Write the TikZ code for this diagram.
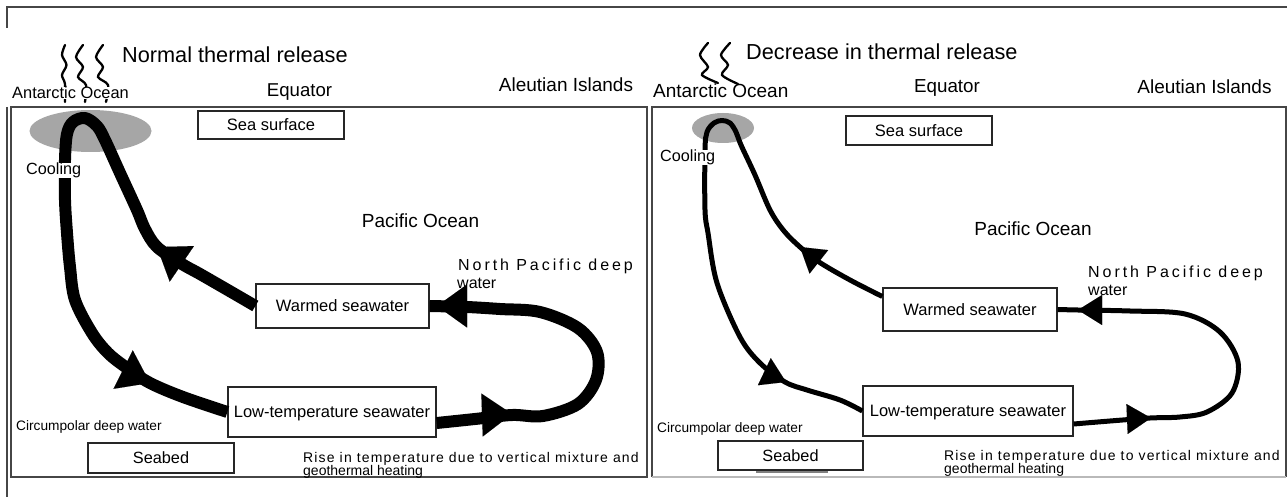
\documentclass[tikz,border=0pt]{standalone}
\usepackage{fontspec}
\setmainfont{Liberation Sans}
\newfontfamily\northfont[LetterSpace=18.3]{Liberation Sans}
\newfontfamily\risefont[LetterSpace=8.3]{Liberation Sans}
\usetikzlibrary{arrows.meta,calc}
\newcommand\myfs[1]{\fontsize{#1}{#1}\selectfont}
\definecolor{ellgrey}{RGB}{166,166,166}
\definecolor{framegrey}{RGB}{70,70,70}
\begin{document}
\begin{tikzpicture}[x=1pt,y=-1pt,
  frameline/.style={draw=framegrey,line width=1.4pt},
  lbl/.style={inner sep=0pt,anchor=base west},
  clbl/.style={inner sep=0pt,anchor=base},
  boxnode/.style={draw=black!85,line width=1.3pt,fill=white,inner sep=0pt,
    text height=11.9pt,text depth=0pt,font=\myfs{16.5}},
  flowL/.style={line width=12pt,line join=round},
  flowR/.style={line width=5pt,line join=round},
  tipL/.style={line width=0.01pt,-{Triangle[length=30pt,width=43pt]}},
  tipR/.style={line width=0.01pt,-{Triangle[length=24pt,width=30pt]}},
  squig/.style={line width=2.3pt,line cap=round}]
\useasboundingbox (0,0) rectangle (1287,497);
\fill[white] (0,0) rectangle (1287,497);
% outer frame
\draw[frameline] (7,28) -- (7,7) -- (1287,7);
\draw[frameline] (7,107) -- (7,497);
% panels
\draw[frameline] (11,107) rectangle (647,477);
\draw[frameline] (652,477) -- (652,107) -- (1286,107) -- (1286,477);
\draw[gray!55,line width=1.4pt] (652,477) -- (1286,477);
% cooling zones
\fill[ellgrey] (90.5,131) ellipse [x radius=61pt,y radius=21pt];
\fill[ellgrey] (723,128) ellipse [x radius=31pt,y radius=15pt];

% ---------- left panel boxes ----------
\node[boxnode,minimum width=146pt,minimum height=28pt] (seaL) at (271,125) {Sea surface};
\node[boxnode,minimum width=173pt,minimum height=44pt] (warmL) at (342.5,306) {Warmed seawater};
\node[boxnode,minimum width=208pt,minimum height=50pt] (lowL) at (332,412) {Low-temperature seawater};
\node[boxnode,minimum width=146pt,minimum height=30pt,font=\myfs{16.3}] (seabedL) at (161,458) {Seabed};
% ---------- right panel boxes ----------
\node[boxnode,minimum width=146pt,minimum height=29pt] (seaR) at (919,130.5) {Sea surface};
\node[boxnode,minimum width=174pt,minimum height=43pt] (warmR) at (970,309.5) {Warmed seawater};
\node[boxnode,minimum width=210pt,minimum height=50pt] (lowR) at (968,411) {Low-temperature seawater};
\node[boxnode,minimum width=145pt,minimum height=29pt,font=\myfs{16.3}] (seabedR) at (790.5,455.5) {Seabed};
\draw[gray,line width=1.5pt] (756,472) -- (828,472);

% ---------- left flows ----------
\coordinate (hotL) at ($(lowL.east)+(0,11)$);
\draw[flowL] plot[smooth,tension=0.55] coordinates {(warmL.west) (233,293) (200,274) (182,264) (157,247) (145,229) (137,210) (120,173) (105,140) (97,126) (85,118) (73,122) (67,134) (65,160) (65,200) (67,233) (70,267) (75,300) (92,333) (108,353) (127,368) (150,383) (183,397) (lowL.west)};
\draw[flowL] plot[smooth,tension=0.55] coordinates {(hotL) (475,419) (512,415) (543,416) (578,404) (596,380) (597,352) (578,328) (540,312) (500,309) (467,307) (warmL.east)};
\coordinate (tLa) at (157,247); \coordinate (bLa) at (182,264);
\coordinate (tLb) at (150,383); \coordinate (bLb) at (122,369);
\coordinate (tLc) at (437,306); \coordinate (bLc) at (467,306);
\coordinate (tLd) at (512,414); \coordinate (bLd) at (482,415);
\draw[tipL] (bLa) -- (tLa);
\draw[tipL] (bLb) -- (tLb);
\draw[tipL] (bLc) -- (tLc);
\draw[tipL] (bLd) -- (tLd);

% ---------- right flows ----------
\coordinate (inR) at ($(warmR.west)+(0,-13)$);
\coordinate (hotR) at ($(lowR.east)+(0,13)$);
\draw[flowR] plot[smooth,tension=0.55] coordinates {(inR) (850,280) (819,262) (800,247) (784,231) (770,210) (755,175) (741,145) (736,132) (730,123) (722,120.5) (714,123) (707,132) (705,150) (705,210) (708,233) (717,283) (740,337) (760,363) (785,382) (807,390) (840,400) (lowR.west)};
\draw[flowR] plot[smooth,tension=0.55] coordinates {(hotR) (1110,421) (1150,418) (1180,417) (1207,412) (1232,393) (1238,362) (1220,332) (1185,314) (1130,311) (1078,310) (warmR.east)};
\coordinate (tRa) at (800,247); \coordinate (bRa) at (819,262);
\coordinate (tRb) at (786,382); \coordinate (bRb) at (765,372);
\coordinate (tRc) at (1078,310); \coordinate (bRc) at (1102,310);
\coordinate (tRd) at (1151,418); \coordinate (bRd) at (1127,419);
\draw[tipR] (bRa) -- (tRa);
\draw[tipR] (bRb) -- (tRb);
\draw[tipR] (bRc) -- (tRc);
\draw[tipR] (bRd) -- (tRd);

% ---------- heat squiggles ----------
\draw[squig] plot[smooth] coordinates {(65,45) (62,55) (66.5,65) (62,75) (65,84) (65,102)};
\draw[squig] plot[smooth] coordinates {(83,45) (76,57) (83,67) (78,77) (86,85) (85,102)};
\draw[squig] plot[smooth] coordinates {(103,45) (96,57) (103,67) (98,77) (108,85) (106,102)};
\draw[squig] plot[smooth] coordinates {(708,43) (700,55) (708,67) (702,75) (718,83)};
\draw[squig] plot[smooth] coordinates {(730,43) (721,55) (728,65) (722,75) (738,84)};

% ---------- left labels ----------
\node[lbl,font=\myfs{21.7}] (titleL) at (122,62.6) {Normal thermal release};
\node[lbl,fill=white,font=\myfs{16.4}] (antL) at (12,98.5) {Antarctic Ocean};
\node[clbl,font=\myfs{18.6}] (equL) at (299.5,96.5) {Equator};
\node[clbl,font=\myfs{19}] (aleuL) at (566,92) {Aleutian Islands};
\node[lbl,fill=white,font=\myfs{16.2}] (coolL) at (26,175) {Cooling};
\node[clbl,font=\myfs{19}] (pacL) at (420.5,227) {Pacific Ocean};
\node[lbl,font=\myfs{16}\northfont] (northL) at (458,270) {North Pacific deep};
\node[lbl,font=\myfs{16}] (waterL) at (457,288) {water};
\node[lbl,font=\myfs{13.7}] (circL) at (16,430) {Circumpolar deep water};
\node[lbl,font=\myfs{14}\risefont] (riseL) at (303,462) {Rise in temperature due to vertical mixture and};
\node[lbl,font=\myfs{14}] (geoL) at (303,475) {geothermal heating};

% ---------- right labels ----------
\node[lbl,font=\myfs{21.7}] (titleR) at (746,59.6) {Decrease in thermal release};
\node[lbl,font=\myfs{19}] (antR) at (653,98) {Antarctic Ocean};
\node[clbl,font=\myfs{18.8}] (equR) at (947,93) {Equator};
\node[clbl,font=\myfs{19}] (aleuR) at (1204.5,94) {Aleutian Islands};
\node[lbl,fill=white,font=\myfs{16.2}] (coolR) at (660,162) {Cooling};
\node[clbl,font=\myfs{19}] (pacR) at (1033,235) {Pacific Ocean};
\node[lbl,font=\myfs{16}\northfont] (northR) at (1088,277) {North Pacific deep};
\node[lbl,font=\myfs{16}] (waterR) at (1088,295) {water};
\node[lbl,font=\myfs{13.7}] (circR) at (657,432) {Circumpolar deep water};
\node[lbl,font=\myfs{14}\risefont] (riseR) at (944,460) {Rise in temperature due to vertical mixture and};
\node[lbl,font=\myfs{14}] (geoR) at (944,473) {geothermal heating};
\end{tikzpicture}
\end{document}
